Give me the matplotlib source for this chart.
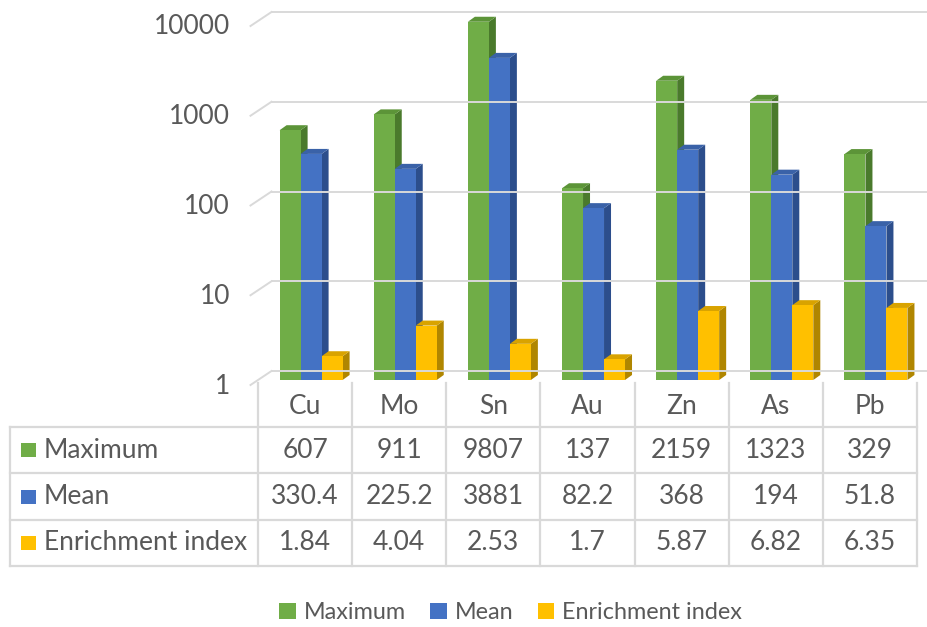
import matplotlib.pyplot as plt
from matplotlib.patches import Polygon, Patch, Rectangle
from matplotlib.lines import Line2D
from matplotlib.transforms import IdentityTransform

# данные
elements = ['Cu', 'Mo', 'Sn', 'Au', 'Zn', 'As', 'Pb']
maximum = [607, 911, 9807, 137, 2159, 1323, 329]
mean = [330.4, 225.2, 3881, 82.2, 368, 194, 51.8]
enrichment = [1.84, 4.04, 2.53, 1.7, 5.87, 6.82, 6.35]
series_names = ['Maximum', 'Mean', 'Enrichment index']
y_ticks = [1, 10, 100, 1000, 10000]

series = [maximum, mean, enrichment]
colors = ['#70AD47', '#4472C4', '#FFC000']
side_colors = ['#4A7A2C', '#2C4E8C', '#B08600']
top_colors = ['#5C9438', '#3A62A8', '#D9A300']
text_color = '#595959'
grid_color = '#D9D9D9'

plt.rcParams['font.family'] = ['Lato', 'DejaVu Sans']

W, H = 927, 627
fig = plt.figure(figsize=(W / 100, H / 100), dpi=100)
ident = IdentityTransform()

# основная ось (плоскость передних граней столбцов)
ax = fig.add_axes([258 / W, 1 - 380 / H, (917 - 258) / W, (380 - 21) / H])
ax.set_yscale('log')
ax.set_ylim(1, 10000)
ax.set_xlim(-0.5, 6.5)
ax.axis('off')

# сетка на задней стенке + косые засечки слева
for v in y_ticks:
    x0, y0 = ax.transData.transform((-0.5, v))
    fig.add_artist(Line2D([x0 + 13.5, W], [y0 + 9, y0 + 9], transform=ident,
                          color=grid_color, lw=1.4, zorder=0.5))
    fig.add_artist(Line2D([x0 - 7.5, x0 + 13.5], [y0 - 5, y0 + 9], transform=ident,
                          color=grid_color, lw=1.4, zorder=0.5))
    fig.text(x0 - 28, y0 - 6, f'{v}', transform=ident, ha='right', va='center',
             fontsize=19, color=text_color)

# столбцы с 3D гранями
bw = 0.223
dx, dy = 7, 5
for i in range(len(elements)):
    for k in range(3):
        xc = i + 0.064 + (k - 1) * bw
        v = series[k][i]
        z = 2 + i * 0.1 + k * 0.03
        ax.bar(xc, v - 1, bottom=1, width=bw, color=colors[k],
               zorder=z + 0.02, clip_on=False)
        (lx, by), (rx, ty) = ax.transData.transform([(xc - bw / 2, 1), (xc + bw / 2, v)])
        side = Polygon([(rx, by), (rx + dx, by + dy), (rx + dx, ty + dy), (rx, ty)],
                       closed=True, transform=ident, facecolor=side_colors[k],
                       edgecolor='none', zorder=z, clip_on=False)
        top = Polygon([(lx, ty), (lx + dx, ty + dy), (rx + dx, ty + dy), (rx, ty)],
                      closed=True, transform=ident, facecolor=top_colors[k],
                      edgecolor='none', zorder=z + 0.01, clip_on=False)
        ax.add_patch(side)
        ax.add_patch(top)

# таблица данных
ov = fig.add_axes([0, 0, 1, 1], zorder=-1)
ov.set_xlim(0, W)
ov.set_ylim(H, 0)
ov.axis('off')

col_x = [ax.transData.transform((-0.5 + j, 1))[0] for j in range(len(elements) + 1)]
row_y = [383, 427, 473, 520, 566]
left_x = 10
lw = 1.6

for xx in col_x:
    ov.plot([xx, xx], [row_y[0], row_y[-1]], color=grid_color, lw=lw)
ov.plot([left_x, left_x], [row_y[1], row_y[-1]], color=grid_color, lw=lw)
for yy in row_y[1:]:
    ov.plot([left_x, col_x[-1]], [yy, yy], color=grid_color, lw=lw)

for j, name in enumerate(elements):
    cx = (col_x[j] + col_x[j + 1]) / 2
    ov.text(cx, (row_y[0] + row_y[1]) / 2 + 2, name, ha='center', va='center',
            fontsize=19, color=text_color)
    for k in range(3):
        cy = (row_y[k + 1] + row_y[k + 2]) / 2
        ov.text(cx, cy, f'{series[k][j]:g}', ha='center', va='center',
                fontsize=19, color=text_color)

for k in range(3):
    cy = (row_y[k + 1] + row_y[k + 2]) / 2
    ov.add_patch(Rectangle((21, cy - 7), 15, 14, facecolor=colors[k], edgecolor='none'))
    ov.text(44, cy, series_names[k], ha='left', va='center', fontsize=19, color=text_color)

# легенда
handles = [Patch(facecolor=c, edgecolor='none') for c in colors]
fig.legend(handles, series_names, loc='center', bbox_to_anchor=(0.551, 0.023),
           ncol=3, frameon=False, fontsize=16.8, handlelength=0.7, handleheight=0.7,
           handletextpad=0.35, columnspacing=1.05, labelcolor=text_color)

fig.savefig('out.png', dpi=100)
